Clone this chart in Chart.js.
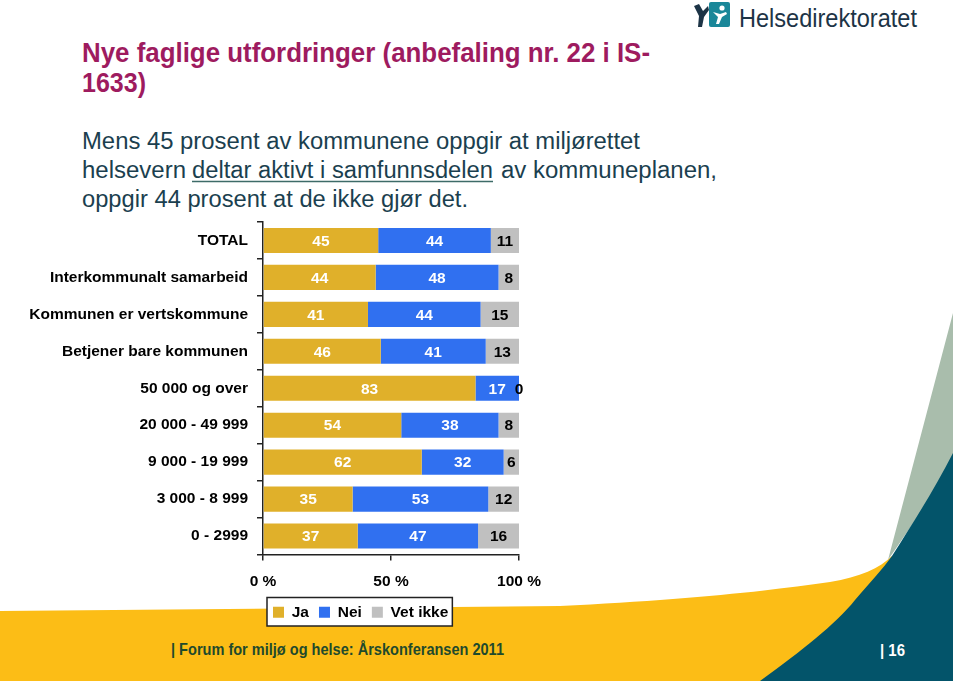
<!DOCTYPE html>
<html>
<head>
<meta charset="utf-8">
<script src="https://cdn.jsdelivr.net/npm/chart.js@4/dist/chart.umd.min.js"></script>
<style>
  html, body { margin: 0; padding: 0; background: #fff; }
  #slide { position: relative; width: 959px; height: 684px; overflow: hidden; background: #fff; }
  #bg { position: absolute; left: 0; top: 0; }
  #chartBox { position: absolute; left: 0; top: 215px; width: 560px; height: 420px; }
  .narrow { font-family: 'Liberation Sans Narrow', 'Arial Narrow', 'Liberation Sans', Arial, sans-serif; }
</style>
</head>
<body>
<div id="slide">
  <svg id="bg" width="959" height="684" xmlns="http://www.w3.org/2000/svg">
    <!-- yellow band -->
    <path d="M0 611 L560 606 C680 600 760 592 830 582 C860 577 880 568 892 556 L892 681 L0 681 Z" fill="#FCBD16"/>
    <!-- grey green -->
    <path d="M888 560 L953 313 L953 460 C930 500 905 535 888 560 Z" fill="#A9BDAC"/>
    <!-- teal -->
    <path d="M760 681 C800 652 835 625 855 600 C872 580 882 570 892 556 C915 520 935 488 953 453 L953 681 Z" fill="#03546A"/>

    <!-- logo -->
    <path d="M694 6 L699 4 L703 11 L708 6 L709 10 L704 17 L702 27 L698 27 L699 16 Z" fill="#1D3446"/>
    <rect x="709" y="2" width="21" height="25" rx="2" fill="#1A8799"/>
    <circle cx="722" cy="8" r="2.6" fill="#fff"/>
    <path d="M713 12 L720 14 L726 12 L727 14 L722 17 L719 24 L716 24 L718 17 Z" fill="#fff"/>
    <text x="739" y="27" class="narrow" font-size="26" fill="#1D3446" textLength="178" lengthAdjust="spacingAndGlyphs">Helsedirektoratet</text>

    <!-- title -->
    <text x="82" y="62" class="narrow" font-size="27" font-weight="bold" fill="#9E1B5F" textLength="568" lengthAdjust="spacingAndGlyphs">Nye faglige utfordringer (anbefaling nr. 22 i IS-</text>
    <text x="82" y="92" class="narrow" font-size="27" font-weight="bold" fill="#9E1B5F" textLength="64" lengthAdjust="spacingAndGlyphs">1633)</text>

    <!-- body -->
    <text x="82" y="149" class="narrow" font-size="23" fill="#1B3F4F" textLength="558" lengthAdjust="spacingAndGlyphs">Mens 45 prosent av kommunene oppgir at miljørettet</text>
    <text x="82" y="178" class="narrow" font-size="23" fill="#1B3F4F" textLength="104" lengthAdjust="spacingAndGlyphs">helsevern</text>
    <text x="192" y="178" class="narrow" font-size="23" fill="#1B3F4F" textLength="301" lengthAdjust="spacingAndGlyphs">deltar aktivt i samfunnsdelen</text>
    <line x1="192" y1="181.5" x2="493" y2="181.5" stroke="#3D6B68" stroke-width="1.5"/>
    <text x="501" y="178" class="narrow" font-size="23" fill="#1B3F4F" textLength="216" lengthAdjust="spacingAndGlyphs">av kommuneplanen,</text>
    <text x="82" y="207" class="narrow" font-size="23" fill="#1B3F4F" textLength="386" lengthAdjust="spacingAndGlyphs">oppgir 44 prosent at de ikke gjør det.</text>

    <!-- footer -->
    <text x="171" y="655" class="narrow" font-size="17" font-weight="bold" fill="#1F4A2C" textLength="333" lengthAdjust="spacingAndGlyphs">| Forum for miljø og helse: Årskonferansen 2011</text>
    <text x="880" y="656" class="narrow" font-size="17" font-weight="bold" fill="#fff" textLength="25" lengthAdjust="spacingAndGlyphs">| 16</text>
  </svg>
  <div id="chartBox"><canvas id="chart"></canvas></div>
</div>

<script>
const categories = ['TOTAL', 'Interkommunalt samarbeid', 'Kommunen er vertskommune', 'Betjener bare kommunen',
  '50 000 og over', '20 000 - 49 999', '9 000 - 19 999', '3 000 - 8 999', '0 - 2999'];
const ja = [45, 44, 41, 46, 83, 54, 62, 35, 37];
const nei = [44, 48, 44, 41, 17, 38, 32, 53, 47];
const vetIkke = [11, 8, 15, 13, 0, 8, 6, 12, 16];
const xTicks = [0, 50, 100];

const fontFamily = '"Liberation Sans", Arial, sans-serif';
const labelFont = 'bold 15.5px ' + fontFamily;
const labelColors = ['#fff', '#fff', '#000'];

// numbers inside the bar segments
const barLabels = {
  id: 'barLabels',
  afterDatasetsDraw(chart) {
    const ctx = chart.ctx;
    ctx.save();
    ctx.font = labelFont;
    ctx.textAlign = 'center';
    ctx.textBaseline = 'middle';
    chart.data.datasets.forEach((ds, i) => {
      chart.getDatasetMeta(i).data.forEach((bar, j) => {
        const p = bar.getProps(['x', 'y', 'base'], true);
        ctx.fillStyle = ds.data[j] === 0 ? '#000' : labelColors[i];
        ctx.fillText(ds.data[j], (p.x + p.base) / 2, p.y + 1);
      });
    });
    ctx.restore();
  }
};

// white framed box behind the legend
const legendFrame = {
  id: 'legendFrame',
  beforeDraw(chart) {
    const boxes = chart.legend.legendHitBoxes;
    if (!boxes || !boxes.length) return;
    const ctx = chart.ctx;
    const l = Math.min(...boxes.map(b => b.left)) - 6;
    const r = Math.max(...boxes.map(b => b.left + b.width)) + 4;
    const t = boxes[0].top - 7;
    const btm = boxes[0].top + boxes[0].height + 6;
    ctx.save();
    ctx.fillStyle = '#fff';
    ctx.fillRect(l, t, r - l, btm - t);
    ctx.strokeStyle = '#222';
    ctx.lineWidth = 1.5;
    ctx.strokeRect(l, t, r - l, btm - t);
    ctx.restore();
  }
};

new Chart(document.getElementById('chart'), {
  type: 'bar',
  data: {
    labels: categories,
    datasets: [{
      label: 'Ja',
      data: ja,
      backgroundColor: '#E0B02A',
      borderWidth: 0
    }, {
      label: 'Nei',
      data: nei,
      backgroundColor: '#3070F0',
      borderWidth: 0
    }, {
      label: 'Vet ikke',
      data: vetIkke,
      backgroundColor: '#C0C0C0',
      borderWidth: 0
    }]
  },
  options: {
    indexAxis: 'y',
    responsive: true,
    maintainAspectRatio: false,
    animation: false,
    layout: { padding: { top: 7, right: 41, bottom: 5, left: 0 } },
    datasets: { bar: { barPercentage: 0.68, categoryPercentage: 1 } },
    scales: {
      x: {
        stacked: true,
        min: 0,
        max: 100,
        afterBuildTicks(scale) { scale.ticks = xTicks.map(v => ({ value: v })); },
        afterFit(scale) { scale.height = 40; scale.paddingLeft = 0; scale.paddingRight = 0; },
        border: { display: true, color: '#222', width: 1.5 },
        grid: { display: true, drawOnChartArea: false, drawTicks: true, tickLength: 6, color: '#222', lineWidth: 1.5 },
        ticks: {
          padding: 12,
          color: '#000',
          font: { family: fontFamily, size: 15.5, weight: 'bold' },
          callback: v => v + ' %'
        }
      },
      y: {
        stacked: true,
        afterFit(scale) { scale.width = 263; scale.paddingTop = 0; scale.paddingBottom = 0; },
        border: { display: true, color: '#222', width: 1.5 },
        grid: { display: true, offset: true, drawOnChartArea: false, drawTicks: true, tickLength: 6, color: '#222', lineWidth: 1.5 },
        ticks: {
          padding: 9,
          color: '#000',
          font: { family: fontFamily, size: 15.5, weight: 'bold' }
        }
      }
    },
    plugins: {
      tooltip: { enabled: false },
      legend: {
        position: 'bottom',
        align: 'start',
        fullSize: false,
        labels: {
          boxWidth: 11,
          boxHeight: 11,
          padding: 10,
          color: '#000',
          font: { family: fontFamily, size: 15.5, weight: 'bold' }
        }
      }
    }
  },
  plugins: [barLabels, legendFrame]
});
</script>
</body>
</html>
